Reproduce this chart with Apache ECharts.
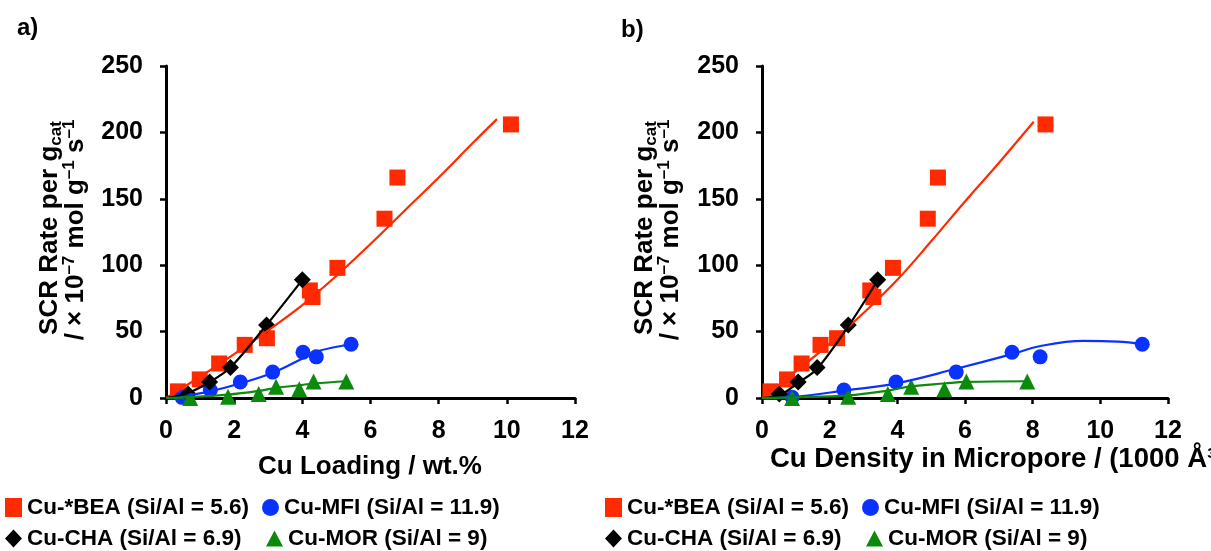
<!DOCTYPE html>
<html><head><meta charset="utf-8">
<script src="https://cdn.jsdelivr.net/npm/echarts@6/dist/echarts.min.js"></script>
<style>html,body{margin:0;padding:0;background:#fff}#c{width:1211px;height:551px}</style>
</head><body><div id="c"></div><script>
// ---- data ----
const xTickLabels = [0, 2, 4, 6, 8, 10, 12];
const yTickLabels = [0, 50, 100, 150, 200, 250];

const seriesNames = ['Cu-*BEA (Si/Al = 5.6)', 'Cu-MFI (Si/Al = 11.9)', 'Cu-CHA (Si/Al = 6.9)', 'Cu-MOR (Si/Al = 9)'];

// SCR rate (same samples in both panels)
const beaRate = [5, 14, 26, 40, 45, 81, 76, 98, 135, 166, 206];
const mfiRate = [0.5, 6, 12, 19.5, 34.5, 31, 40.5];
const chaRate = [3, 12, 23, 55, 89];
const morRate = [0, 1, 3, 8.5, 6.5, 12.5, 12.5];

// panel a) Cu loading / wt.%
const beaLoading = [0.35, 0.99, 1.56, 2.31, 2.96, 4.22, 4.3, 5.03, 6.41, 6.79, 10.12];
const mfiLoading = [0.47, 1.3, 2.18, 3.13, 4.02, 4.41, 5.43];
const chaLoading = [0.65, 1.28, 1.89, 2.95, 4.0];
const morLoading = [0.71, 1.82, 2.72, 3.23, 3.91, 4.33, 5.29];

// panel b) Cu density in micropore / (1000 A^3)
const beaDensity = [0.25, 0.74, 1.17, 1.73, 2.22, 3.2, 3.29, 3.87, 4.9, 5.2, 8.38];
const mfiDensity = [0.89, 2.42, 3.96, 5.74, 7.39, 8.22, 11.24];
const chaDensity = [0.51, 1.07, 1.63, 2.55, 3.42];
const morDensity = [0.89, 2.55, 3.72, 4.41, 5.39, 6.04, 7.84];

// trend lines
const beaFitAx = [0, 1, 2, 3, 4, 5, 6, 7, 8, 9, 9.71];
const beaFitAy = [0, 16, 33, 51, 70, 92, 116, 141, 166, 192, 210];
const beaFitBx = [0, 1, 2, 3, 4, 5, 6, 7, 8.03];
const beaFitBy = [0, 20, 41, 64, 89, 118, 148, 177, 208];
const chaFitAx = [0, 0.65, 1.28, 1.89, 2.95, 4.0];
const chaFitAy = [0, 3.8, 12, 23, 55, 89];
const chaFitBx = [0, 0.51, 1.07, 1.63, 2.55, 3.42];
const chaFitBy = [0, 2, 11.4, 22, 54, 88.7];
const mfiFitAx = [0, 0.47, 1.3, 2.18, 3.13, 4.02, 4.41, 5.43];
const mfiFitAy = [0, 1.5, 5, 11, 19, 30, 35, 40.5];
const mfiFitBx = [0, 0.89, 2.42, 3.96, 5.74, 7.39, 8.2, 9.5, 10.5, 11.24];
const mfiFitBy = [0, 0.8, 5.5, 11, 22, 33, 39, 43, 42.5, 40.7];
const morFitAx = [0, 0.71, 1.82, 2.72, 3.23, 3.91, 4.33, 5.29];
const morFitAy = [0, 0.7, 2.5, 5.3, 7.6, 9.6, 10.9, 12.6];
const morFitBx = [0, 0.89, 2.55, 3.72, 4.41, 5.39, 6.04, 7.84];
const morFitBy = [0, 0.5, 2, 5.6, 8.8, 10.9, 12.1, 12.6];

// ---- chart ----
const FONT = '"Liberation Sans", Arial, Helvetica, sans-serif';
const RED = '#ff2a00', BLUE = '#0a32ff', GREEN = '#0b8a0b', BLACK = '#000000';
const zip = (xs, ys) => xs.map((x, i) => [x, ys[i]]);

function xAx(gi) {
  return {
    type: 'value', gridIndex: gi, min: xTickLabels[0], max: xTickLabels[xTickLabels.length - 1], interval: 2,
    axisLine: { show: true, onZero: false, lineStyle: { color: '#000', width: 3 } },
    axisTick: { show: true, inside: false, length: 6, lineStyle: { color: '#000', width: 2.5 } },
    axisLabel: { color: '#000', fontSize: 25, fontWeight: 'bold', fontFamily: FONT, margin: 21 },
    splitLine: { show: false }
  };
}
function yAx(gi) {
  return {
    type: 'value', gridIndex: gi, min: yTickLabels[0], max: yTickLabels[yTickLabels.length - 1], interval: 50,
    axisLine: { show: true, onZero: false, lineStyle: { color: '#000', width: 3 } },
    axisTick: { show: true, inside: false, length: 6, lineStyle: { color: '#000', width: 2.5 } },
    axisLabel: { color: '#000', fontSize: 25, fontWeight: 'bold', fontFamily: FONT, margin: 23 },
    splitLine: { show: false }
  };
}
function scatter(name, gi, xs, ys, symbol, size, color) {
  return { type: 'scatter', name, xAxisIndex: gi, yAxisIndex: gi, data: zip(xs, ys), symbol, symbolSize: size,
    itemStyle: { color, opacity: 1 }, clip: false, silent: true };
}
function fit(name, gi, xs, ys, color, smooth) {
  return { type: 'line', name, xAxisIndex: gi, yAxisIndex: gi, data: zip(xs, ys), showSymbol: false, symbol: 'none',
    smooth, lineStyle: { color, width: 2.2 }, itemStyle: { color }, silent: true };
}
function leg(name, icon, left, top, w, h) {
  return { data: [{ name, icon }], left, top, padding: 0, itemWidth: w, itemHeight: h, itemGap: 0,
    selectedMode: false, textStyle: { fontSize: 22.5, fontWeight: 'bold', color: '#000', fontFamily: FONT } };
}

const rich = {
  m: { fontSize: 26, fontWeight: 'bold', fontFamily: FONT, lineHeight: 30, fill: '#000' },
  s: { fontSize: 17, fontWeight: 'bold', fontFamily: FONT, lineHeight: 17, verticalAlign: 'bottom', fill: '#000' },
  p: { fontSize: 17, fontWeight: 'bold', fontFamily: FONT, lineHeight: 17, verticalAlign: 'top', fill: '#000' }
};
function yTitle(dx) {
  return [
    { type: 'text', x: 50 + dx, y: 228, rotation: Math.PI / 2, silent: true,
      style: { text: '{m|SCR Rate per g}{s|cat}', rich, align: 'center', verticalAlign: 'middle' } },
    { type: 'text', x: 76 + dx, y: 230, rotation: Math.PI / 2, silent: true,
      style: { text: '{m|/ × 10}{p|–7}{m| mol g}{p|–1}{m| s}{p|–1}', rich, align: 'center', verticalAlign: 'middle' } }
  ];
}

const option = {
  animation: false,
  backgroundColor: '#fff',
  grid: [
    { left: 166, right: 1211 - 575, top: 66, bottom: 551 - 398, containLabel: false },
    { left: 762, right: 1211 - 1168, top: 66, bottom: 551 - 398, containLabel: false }
  ],
  xAxis: [xAx(0), xAx(1)],
  yAxis: [yAx(0), yAx(1)],
  legend: [
    leg(seriesNames[0], 'rect', 5, 496, 17, 19),
    leg(seriesNames[1], 'circle', 262, 496, 17, 19),
    leg(seriesNames[2], 'diamond', 5, 527, 17, 18),
    leg(seriesNames[3], 'triangle', 266, 527, 17, 16),
    leg(seriesNames[0], 'rect', 605, 496, 17, 19),
    leg(seriesNames[1], 'circle', 862, 496, 17, 19),
    leg(seriesNames[2], 'diamond', 605, 527, 17, 18),
    leg(seriesNames[3], 'triangle', 866, 527, 17, 16)
  ],
  graphic: [
    { type: 'text', x: 17, y: 28, silent: true, style: { text: 'a)', fontSize: 24, fontWeight: 'bold', fontFamily: FONT, fill: '#000', verticalAlign: 'middle' } },
    { type: 'text', x: 621, y: 30, silent: true, style: { text: 'b)', fontSize: 24, fontWeight: 'bold', fontFamily: FONT, fill: '#000', verticalAlign: 'middle' } },
    ...yTitle(0),
    ...yTitle(595),
    { type: 'text', x: 370, y: 467, silent: true, style: { text: 'Cu Loading / wt.%', fontSize: 26, fontWeight: 'bold', fontFamily: FONT, fill: '#000', align: 'center', verticalAlign: 'middle' } },
    { type: 'text', x: 770, y: 459, silent: true, style: { text: 'Cu Density in Micropore / (1000 Å³)', fontSize: 27.5, fontWeight: 'bold', fontFamily: FONT, fill: '#000', align: 'left', verticalAlign: 'middle' } }
  ],
  series: [
    fit('bea-fit-a', 0, beaFitAx, beaFitAy, RED, 0.4),
    scatter(seriesNames[0], 0, beaLoading, beaRate, 'rect', 16, RED),
    fit('mfi-fit-a', 0, mfiFitAx, mfiFitAy, BLUE, 0.4),
    scatter(seriesNames[1], 0, mfiLoading, mfiRate, 'circle', 15, BLUE),
    fit('cha-fit-a', 0, chaFitAx, chaFitAy, BLACK, 0.3),
    scatter(seriesNames[2], 0, chaLoading, chaRate, 'diamond', 17, BLACK),
    fit('mor-fit-a', 0, morFitAx, morFitAy, GREEN, 0.4),
    scatter(seriesNames[3], 0, morLoading, morRate, 'triangle', 16, GREEN),

    fit('bea-fit-b', 1, beaFitBx, beaFitBy, RED, 0.4),
    scatter(seriesNames[0], 1, beaDensity, beaRate, 'rect', 16, RED),
    fit('mfi-fit-b', 1, mfiFitBx, mfiFitBy, BLUE, 0.4),
    scatter(seriesNames[1], 1, mfiDensity, mfiRate, 'circle', 15, BLUE),
    fit('cha-fit-b', 1, chaFitBx, chaFitBy, BLACK, 0.3),
    scatter(seriesNames[2], 1, chaDensity, chaRate, 'diamond', 17, BLACK),
    fit('mor-fit-b', 1, morFitBx, morFitBy, GREEN, 0.4),
    scatter(seriesNames[3], 1, morDensity, morRate, 'triangle', 16, GREEN)
  ]
};
const chart = echarts.init(document.getElementById('c'), null, { renderer: 'canvas' });
chart.setOption(option);
</script></body></html>
